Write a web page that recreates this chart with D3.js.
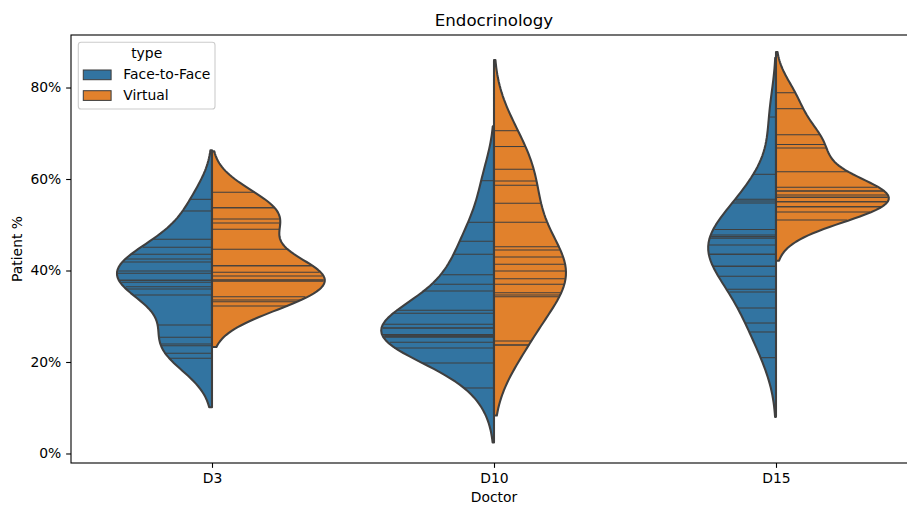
<!DOCTYPE html>
<html><head><meta charset="utf-8">
<script src="https://cdn.jsdelivr.net/npm/d3@7"></script>
<style>body{margin:0;background:#fff} svg{display:block;font-family:"DejaVu Sans",sans-serif}</style>
</head><body><svg id="c" width="907" height="507"></svg>
<script>
const categories = ["D3", "D10", "D15"];
const hueLevels = ["Face-to-Face", "Virtual"];
const yTickValues = [0, 0.2, 0.4, 0.6, 0.8];

const d3FaceToFace = [0.5556,0.5301,0.4682,0.4507,0.4354,0.4251,0.4186,0.3989,0.3939,0.3786,0.3786,0.3742,0.3646,0.3596,0.3464,0.2809,0.2540,0.2393,0.2356,0.2190,0.2081];
const d3Virtual = [0.5709,0.5373,0.5373,0.5126,0.5038,0.4901,0.4463,0.4105,0.4105,0.3961,0.3880,0.3792,0.3792,0.3764,0.3427,0.3355,0.3318,0.3224];
const d10FaceToFace = [0.5963,0.5054,0.4638,0.4354,0.3908,0.3698,0.3552,0.3130,0.3064,0.2824,0.2743,0.2743,0.2601,0.2568,0.2568,0.2568,0.2540,0.2431,0.2306,0.1978,0.1432];
const d10Virtual = [0.7056,0.6710,0.6212,0.5956,0.5862,0.5471,0.5054,0.4520,0.4448,0.4295,0.4136,0.3989,0.3821,0.3698,0.3515,0.3464,0.3427,0.2459,0.2372,0.2372];
const d15FaceToFace = [0.7355,0.6103,0.5556,0.5519,0.5475,0.4896,0.4776,0.4739,0.4739,0.4704,0.4557,0.4354,0.4354,0.4092,0.4092,0.3873,0.3589,0.3530,0.3180,0.2852,0.2656,0.2094];
const d15Virtual = [0.7886,0.7537,0.6968,0.6754,0.6754,0.6678,0.6160,0.5819,0.5738,0.5738,0.5650,0.5600,0.5600,0.5504,0.5504,0.5395,0.5395,0.5279,0.5104];

const groupData = [
  [d3FaceToFace, d3Virtual],
  [d10FaceToFace, d10Virtual],
  [d15FaceToFace, d15Virtual]
];
const colors = ["#3274a1", "#e1812c"];
const gray = "#3f3f3f";

const svg = d3.select("#c");
const plot = {left: 71, right: 917, top: 35, bottom: 463};

const x = d3.scalePoint().domain(categories).range([plot.left, plot.right]).padding(0.5);
const y = d3.scaleLinear().domain([-0.0208, 0.9148]).range([plot.bottom, plot.top]);
const dwidth = x.step() * 0.4;

function kde(vals) {
  const n = vals.length;
  const sd = d3.deviation(vals);
  const bw = Math.pow(n, -0.2) * sd;
  const lo = d3.min(vals) - 2 * bw, hi = d3.max(vals) + 2 * bw;
  const support = d3.range(100).map(i => lo + (hi - lo) * i / 99);
  const dens = support.map(s => d3.sum(vals, v => Math.exp(-0.5 * ((s - v) / bw) ** 2)) / (n * bw * Math.sqrt(2 * Math.PI)));
  return {support, dens};
}

const gV = svg.append("g");
const gS = svg.append("g");

categories.forEach((cat, i) => {
  const cx = x(cat);
  const kdes = groupData[i].map(kde);
  const maxD = d3.max(kdes, k => d3.max(k.dens));
  kdes.forEach((k, j) => {
    const sign = j === 0 ? -1 : 1;
    const scaled = k.dens.map(d => d / maxD);
    const pts = k.support.map((s, idx) => [cx + sign * scaled[idx] * dwidth, y(s)]);
    const poly = [[cx, y(k.support[0])], ...pts, [cx, y(k.support[k.support.length - 1])]];
    gV.append("path")
      .attr("d", d3.line()(poly) + "Z")
      .attr("fill", colors[j])
      .attr("stroke", gray)
      .attr("stroke-width", 2.08)
      .attr("stroke-linejoin", "round");
    groupData[i][j].forEach(v => {
      let best = 0, bd = Infinity;
      k.support.forEach((s, idx) => { const dd = Math.abs(s - v); if (dd < bd) { bd = dd; best = idx; } });
      const w = dwidth * scaled[best] * 0.99;
      gS.append("line")
        .attr("x1", cx).attr("x2", cx + sign * w)
        .attr("y1", y(v)).attr("y2", y(v))
        .attr("stroke", gray).attr("stroke-width", 1.04);
    });
  });
});

svg.append("rect").attr("x", plot.left).attr("y", plot.top)
  .attr("width", plot.right - plot.left).attr("height", plot.bottom - plot.top)
  .attr("fill", "none").attr("stroke", "#000").attr("stroke-width", 1.1);

const yAxis = svg.append("g").attr("transform", `translate(${plot.left},0)`)
  .call(d3.axisLeft(y).tickValues(yTickValues).tickFormat(d3.format(".0%")).tickSize(4.86).tickPadding(4.86));
const xAxis = svg.append("g").attr("transform", `translate(0,${plot.bottom})`)
  .call(d3.axisBottom(x).tickSize(4.86).tickPadding(4.86));
[yAxis, xAxis].forEach(a => {
  a.select(".domain").remove();
  a.selectAll(".tick line").attr("stroke", "#000").attr("stroke-width", 1.1);
  a.selectAll(".tick text").attr("fill", "#000").style("font-size", "13.9px").style("font-family", "DejaVu Sans");
});

svg.append("text").attr("x", (plot.left + plot.right) / 2).attr("y", 26)
  .attr("text-anchor", "middle").style("font-size", "16.67px").text("Endocrinology");
svg.append("text").attr("x", (plot.left + plot.right) / 2).attr("y", 502)
  .attr("text-anchor", "middle").style("font-size", "13.9px").text("Doctor");
svg.append("text").attr("transform", `translate(22,${(plot.top + plot.bottom) / 2}) rotate(-90)`)
  .attr("text-anchor", "middle").style("font-size", "13.9px").text("Patient %");

const lg = svg.append("g");
lg.append("rect").attr("x", 78.3).attr("y", 42.3).attr("width", 136.7).attr("height", 66.7)
  .attr("rx", 2.8).attr("fill", "#fff").attr("fill-opacity", 0.8).attr("stroke", "#cccccc").attr("stroke-width", 1.1);
lg.append("text").attr("x", 146.7).attr("y", 57.5).attr("text-anchor", "middle").style("font-size", "13.9px").text("type");
hueLevels.forEach((h, j) => {
  const yy = 70 + j * 20.7;
  lg.append("rect").attr("x", 83.3).attr("y", yy).attr("width", 27.8).attr("height", 9.7)
    .attr("fill", colors[j]).attr("stroke", gray).attr("stroke-width", 1.04);
  lg.append("text").attr("x", 123.3).attr("y", yy + 9.4).style("font-size", "13.9px").text(h);
});
</script></body></html>
